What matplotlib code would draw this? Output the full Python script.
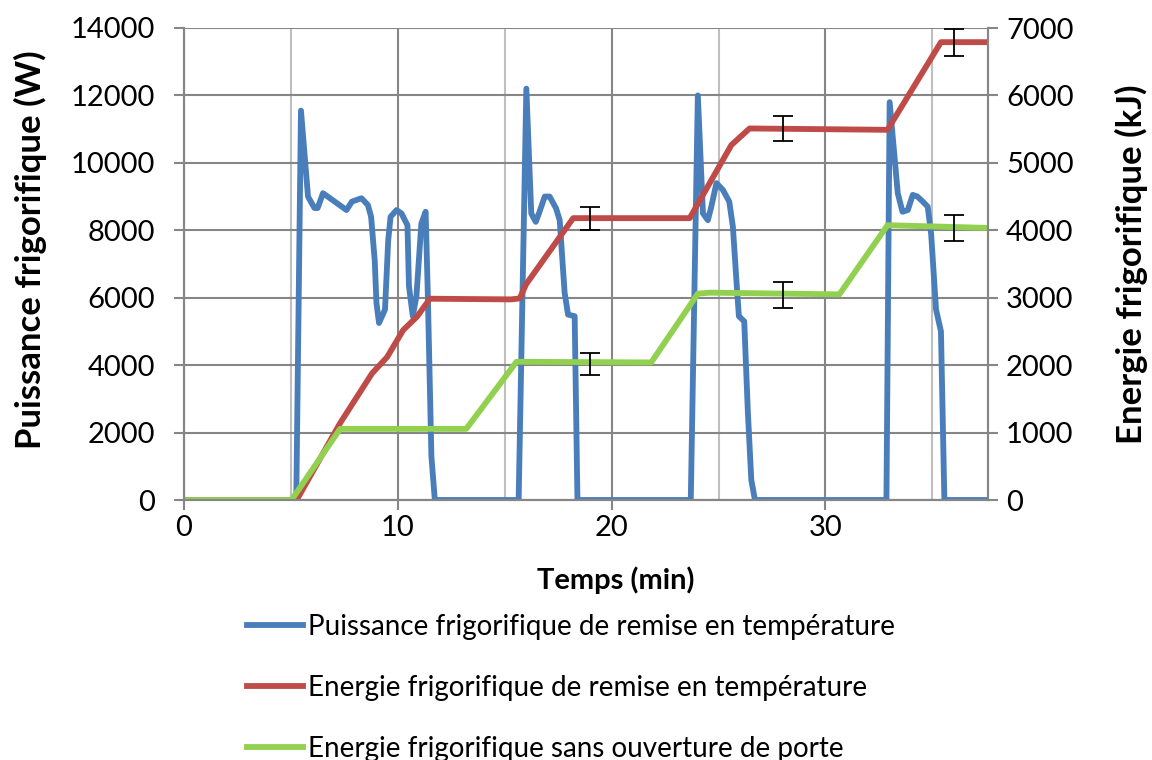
import matplotlib
matplotlib.use("Agg")
import matplotlib.pyplot as plt

plt.rcParams['font.family'] = ['Lato', 'DejaVu Sans']

# blue: cooling power (W)
time_power = [0, 5.25, 5.47, 5.8, 6.1, 6.25, 6.5, 7.6, 7.85, 8.3, 8.6, 8.75, 8.92, 9.0, 9.12,
              9.4, 9.55, 9.66, 9.94, 10.17, 10.45, 10.52, 10.7, 10.87, 11.1, 11.3, 11.4, 11.57,
              11.73, 15.65, 16.01, 16.24, 16.45, 16.6, 16.87, 17.1, 17.4, 17.57, 17.8, 17.96,
              18.27, 18.4, 23.7, 24.03, 24.27, 24.5, 24.66, 24.9, 25.2, 25.5, 25.67, 25.83,
              25.95, 26.2, 26.37, 26.53, 26.7, 32.85, 33.0, 33.38, 33.6, 33.85, 34.08, 34.3,
              34.55, 34.78, 34.94, 35.17, 35.4, 35.56, 37.6]
power = [0, 0, 11550, 9000, 8660, 8660, 9100, 8600, 8850, 8950, 8750, 8400, 7100, 5850, 5250,
         5650, 7700, 8400, 8600, 8500, 8150, 6350, 5450, 6050, 8200, 8550, 6150, 1300,
         0, 0, 12200, 8500, 8250, 8500, 9000, 9000, 8650, 8300, 6150, 5500,
         5450, 0, 0, 12000, 8500, 8300, 8700, 9400, 9200, 8850, 8100, 6550,
         5450, 5300, 2600, 600, 0, 0, 11800, 9100, 8550, 8600, 9050, 9000,
         8850, 8700, 7900, 5650, 5000, 0, 0]

# red: energy with door openings (kJ)
time_red = [0, 5.27, 7.3, 8.8, 9.5, 10.25, 10.9, 11.5, 15.3, 15.7, 16.0, 18.2, 23.65, 25.6,
            26.45, 32.9, 35.4, 37.6]
energy_red = [0, 0, 1140, 1880, 2120, 2520, 2720, 2985, 2975, 2990, 3200, 4180, 4180, 5265,
              5510, 5490, 6790, 6790]

# green: energy without door opening (kJ)
time_green = [0, 5.03, 7.3, 13.2, 15.55, 21.85, 24.03, 24.6, 30.65, 32.9, 37.6]
energy_green = [0, 0, 1055, 1055, 2050, 2040, 3060, 3075, 3050, 4075, 4035]

# error bars
err_t = [19.0, 28.0, 36.0]
err_red = [4180, 5510, 6790]
err_red_d = [170, 185, 200]
err_green = [2020, 3040, 4036]
err_green_d = [165, 190, 190]

BLUE = "#4A7EBB"
RED = "#BE4B48"
GREEN = "#92D050"
GRID = "#868686"

fig = plt.figure(figsize=(11.52, 7.6), dpi=100)
ax = fig.add_axes([184 / 1152, 1 - 500 / 760, 804 / 1152, 472 / 760])
ax2 = ax.twinx()

l1, = ax.plot(time_power, power, color=BLUE, lw=4.2, solid_joinstyle="round",
              label="Puissance frigorifique de remise en température")
l2, = ax2.plot(time_red, energy_red, color=RED, lw=4.2, solid_joinstyle="round",
               label="Energie frigorifique de remise en température")
l3, = ax2.plot(time_green, energy_green, color=GREEN, lw=4.2, solid_joinstyle="round",
               label="Energie frigorifique sans ouverture de porte")
ax2.errorbar(err_t, err_red, yerr=err_red_d, fmt="none", ecolor="black", elinewidth=1.3,
             capsize=7, capthick=1.3)
ax2.errorbar(err_t, err_green, yerr=err_green_d, fmt="none", ecolor="black", elinewidth=1.3,
             capsize=7, capthick=1.3)

ax.set_xlim(0, 37.6)
ax.set_ylim(0, 14000)
ax2.set_ylim(0, 7000)
ax.set_xticks([0, 10, 20, 30])
ax.set_xticks([5, 15, 25, 35], minor=True)
ax.set_yticks(range(0, 14001, 2000))
ax2.set_yticks(range(0, 7001, 1000))

ax.grid(True, which="major", color=GRID, lw=1.5)
ax.grid(True, which="minor", axis="x", color="#BFBFBF", lw=1.5)
ax.set_axisbelow(True)

for a in (ax, ax2):
    a.spines["top"].set_visible(False)
    for s in ("left", "right", "bottom"):
        a.spines[s].set_color(GRID)
        a.spines[s].set_linewidth(1.5)
ax.tick_params(axis="both", which="major", direction="out", length=7, width=1.5,
               color=GRID, labelsize=21)
ax.tick_params(axis="y", pad=14)
ax.tick_params(axis="x", which="minor", length=0)
ax2.tick_params(axis="y", direction="out", length=7, width=1.5, color=GRID, labelsize=21, pad=6)

ax.set_xlabel("Temps (min)", fontsize=21, fontweight="bold")
ax.xaxis.set_label_coords(0.537, -0.14)
ax.set_ylabel("Puissance frigorifique (W)", fontsize=25, fontweight="bold",
              va="center", ha="center")
ax.yaxis.set_label_coords(-0.191, 0.53)
ax2.set_ylabel("Energie frigorifique (kJ)", fontsize=25, fontweight="bold",
               va="center", ha="center")
ax2.yaxis.set_label_coords(1.179, 0.5)

fig.legend(handles=[l1, l2, l3], loc="upper left", bbox_to_anchor=(236 / 1152, 1 - 603 / 760),
           frameon=False, fontsize=20, handlelength=2.0, handletextpad=0.2, labelspacing=1.25,
           borderaxespad=0)

fig.savefig("out.png", dpi=100)
